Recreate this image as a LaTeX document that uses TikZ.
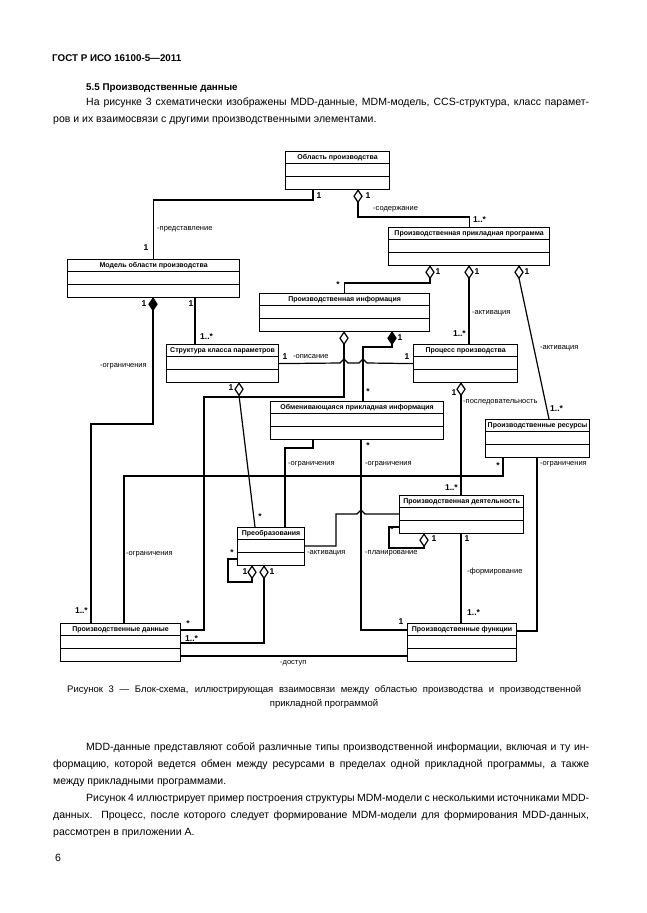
\documentclass[tikz,border=0pt]{standalone}
\usepackage{fontspec}
\setmainfont{Liberation Sans}
\tikzset{
  kline/.style={line width=1.2pt},
  klass/.style={draw, line width=1.2pt, anchor=north west, minimum height=38pt, inner sep=0pt},
  ktitle/.style={font=\fontsize{7}{8}\selectfont\bfseries, inner sep=0pt},
  lab/.style={font=\fontsize{7.5}{8}\selectfont, inner sep=0pt},
  mult/.style={font=\fontsize{8.5}{9}\selectfont\bfseries, inner sep=0pt},
  txt/.style={font=\fontsize{10.5}{13}\selectfont, anchor=base west, inner sep=0pt},
  captxt/.style={font=\fontsize{9.5}{12}\selectfont, anchor=base west, inner sep=0pt},
}
\newcommand{\klass}[5]{%
  \node[klass, minimum width=#4pt] (#1) at (#2,#3) {};
  \node[ktitle] (#1-t) at ([yshift=-6.5pt]#1.north) {#5};
  \draw[kline] ([yshift=-12.5pt]#1.north west) -- ([yshift=-12.5pt]#1.north east);
  \draw[kline] ([yshift=-25.5pt]#1.north west) -- ([yshift=-25.5pt]#1.north east);}
\newcommand{\agg}[3][white]{%
  \draw[kline, fill=#1] (#3) -- ++(4,6) -- ++(-4,6) coordinate (#2) -- ++(-4,-6) -- cycle;}
\begin{document}
\begin{tikzpicture}[x=1pt, y=-1pt]
\useasboundingbox[fill=white] (0,0) rectangle (646,913);
\node[txt, font=\fontsize{9.8}{12}\selectfont\bfseries] (h0) at (52,61) {ГОСТ Р ИСО 16100-5—2011};
\node[txt, font=\fontsize{9.8}{12}\selectfont\bfseries] (h1) at (86,90) {5.5 Производственные данные};
\node[txt] (p1) at (86,105) {\makebox[503pt][s]{На рисунке 3 схематически изображены MDD-данные, MDM-модель, CCS-структура, класс парамет-}};
\node[txt] (p2) at (53,122) {ров и их взаимосвязи с другими производственными элементами.};

\klass{ob}{285}{151}{104}{Область производства}
\klass{mo}{67}{259}{172}{Модель области производства}
\klass{ppp}{388}{227}{161}{Производственная прикладная программа}
\klass{pi}{259}{293}{170}{Производственная информация}
\klass{skp}{166}{344}{112}{Структура класса параметров}
\klass{pp}{413}{344}{104}{Процесс производства}
\klass{opi}{270}{401}{173}{Обменивающаяся прикладная информация}
\klass{pr}{485}{419}{104}{Производственные ресурсы}
\klass{pd}{399}{495}{124}{Производственная деятельность}
\klass{pre}{237}{527}{67}{Преобразования}
\klass{pdan}{60}{623}{120}{Производственные данные}
\klass{pf}{407}{623}{109}{Производственные функции}

\draw[kline] (313,0 |- ob.south) -- (313,200) -| (mo.north);
\agg{ob-d}{358,0 |- ob.south}
\draw[kline] (ob-d) -- (358,217) -| (ppp.north);
\agg{ppp-d1}{430,0 |- ppp.south}
\draw[kline] (ppp-d1) -- (430,283) -| (pi.north);
\agg{ppp-d2}{469,0 |- ppp.south}
\draw[kline] (ppp-d2) -- (469,0 |- pp.north);
\agg{ppp-d3}{519,0 |- ppp.south}
\draw[kline] (ppp-d3) -- (549,0 |- pr.north);
\agg[black]{mo-d}{153,0 |- mo.south}
\draw[kline] (mo-d) -- (153,424) -| (91,0 |- pdan.north);
\draw[kline] (195,0 |- mo.south) -- (195,0 |- skp.north);
\draw[kline] (skp.east) -- (340,363) -- ++(4,-4) -- ++(4,4) -- (359,363) -- ++(4,-4) -- ++(4,4) -- (pp.west);
\agg{pi-d1}{344,0 |- pi.south}
\draw[kline] (pi-d1) -- (344,397) -| (204,630) -- (pdan.east |- 0,630);
\agg[black]{pi-d2}{392,0 |- pi.south}
\draw[kline] (pi-d2) -- (392,347) -| (363,0 |- opi.north);
\agg{skp-d}{239,0 |- skp.south}
\draw[kline] (skp-d) -- (255,0 |- pre.north);
\draw[kline] (313,0 |- opi.south) -- (313,448) -| (285,0 |- pre.north);
\draw[kline] (503,0 |- pr.south) -- (503,476) -| (124,0 |- pdan.north);
\draw[kline] (361,0 |- opi.south) -- (361,630) -- (pf.west |- 0,630);
\agg{pp-d}{461,0 |- pp.south}
\draw[kline] (pp-d) -- (461,0 |- pd.north);
\draw[kline] (pre.east |- 0,546) -- (336,546) -- (336,514) -- (357,514) -- ++(4,-4) -- ++(4,4) -- (pd.west |- 0,514);
\agg{pd-d}{424,0 |- pd.south}
\draw[kline] (pd-d) -- (424,548) -| (389,527) -- (pd.west |- 0,527);
\draw[kline] (461,0 |- pd.south) -- (461,0 |- pf.north);
\draw[kline] (537,0 |- pr.south) |- (pf.east |- 0,631);
\agg{pre-d1}{252,0 |- pre.south}
\draw[kline] (pre-d1) -- (252,582) -| (228,559) -- (pre.west |- 0,559);
\agg{pre-d2}{264,0 |- pre.south}
\draw[kline] (pre-d2) |- (pdan.east |- 0,643);
\draw[kline] (pdan.east |- 0,656) -- (pf.west |- 0,656);

\node[mult] (m1) at (319,196) {1};
\node[lab, anchor=west] (r1) at (157,229) {-представление};
\node[mult] (m2) at (146,248) {1};
\node[mult] (m3) at (368,196) {1};
\node[lab, anchor=west] (r2) at (373,209) {-содержание};
\node[mult, anchor=west] (m4) at (473,220) {1..*};
\node[mult] (m5) at (438,272) {1};
\node[mult] (m6) at (338,285) {*};
\node[mult] (m7) at (477,272) {1};
\node[lab, anchor=west] (r3) at (472,313) {-активация};
\node[mult, anchor=east] (m8) at (466,334) {1..*};
\node[mult] (m9) at (527,272) {1};
\node[lab, anchor=west] (r4) at (540,348) {-активация};
\node[mult, anchor=west] (m10) at (550,409) {1..*};
\node[mult] (m11) at (144,304) {1};
\node[lab, anchor=west] (r5) at (100,366) {-ограничения};
\node[mult, anchor=east] (m12) at (88,611) {1..*};
\node[mult] (m13) at (191,304) {1};
\node[mult, anchor=west] (m14) at (200,337) {1..*};
\node[mult] (m15) at (285,357) {1};
\node[lab, anchor=west] (r6) at (293,357) {-описание};
\node[mult] (m16) at (407,357) {1};
\node[mult] (m17) at (188,624) {*};
\node[mult] (m18) at (400,338) {1};
\node[mult] (m19) at (368,392) {*};
\node[mult] (m20) at (231,388) {1};
\node[mult] (m21) at (260,517) {*};
\node[lab, anchor=west] (r7) at (288,464) {-ограничения};
\node[mult] (m22) at (498,466) {*};
\node[lab, anchor=west] (r8) at (126,554) {-ограничения};
\node[mult] (m23) at (368,446) {*};
\node[lab, anchor=west] (r9) at (365,464) {-ограничения};
\node[mult] (m24) at (401,622) {1};
\node[mult] (m25) at (454,393) {1};
\node[lab, anchor=west] (r10) at (463,402) {-последовательность};
\node[mult, anchor=east] (m26) at (458,488) {1..*};
\node[lab, anchor=west] (r11) at (307,553) {-активация};
\node[mult] (m27) at (434,539) {1};
\node[mult] (m28) at (392,530) {*};
\node[lab, anchor=west] (r12) at (365,553) {-планирование};
\node[mult] (m29) at (467,539) {1};
\node[lab, anchor=west] (r13) at (467,572) {-формирование};
\node[mult, anchor=west] (m30) at (467,613) {1..*};
\node[lab, anchor=west] (r14) at (540,464) {-ограничения};
\node[mult] (m31) at (232,553) {*};
\node[mult] (m32) at (245,572) {1};
\node[mult] (m33) at (272,572) {1};
\node[mult, anchor=west] (m34) at (185,639) {1..*};
\node[lab, anchor=west] (r15) at (280,663) {-доступ};

\node[captxt] (c1) at (67,692) {\makebox[514pt][s]{Рисунок 3 — Блок-схема, иллюстрирующая взаимосвязи между областью производства и производственной}};
\node[captxt, anchor=base] (c2) at (324,706) {прикладной программой};
\node[txt] (q1) at (86,750) {\makebox[503pt][s]{MDD-данные представляют собой различные типы производственной информации, включая и ту ин-}};
\node[txt] (q2) at (53,767) {\makebox[536pt][s]{формацию, которой ведется обмен между ресурсами в пределах одной прикладной программы, а также}};
\node[txt] (q3) at (53,784) {между прикладными программами.};
\node[txt] (q4) at (86,801) {\makebox[503pt][s]{Рисунок 4 иллюстрирует пример построения структуры MDM-модели с несколькими источниками MDD-}};
\node[txt] (q5) at (53,818) {\makebox[536pt][s]{данных. Процесс, после которого следует формирование MDM-модели для формирования MDD-данных,}};
\node[txt] (q6) at (53,835) {рассмотрен в приложении А.};
\node[txt] (pg) at (55,861) {6};
\end{tikzpicture}
\end{document}
